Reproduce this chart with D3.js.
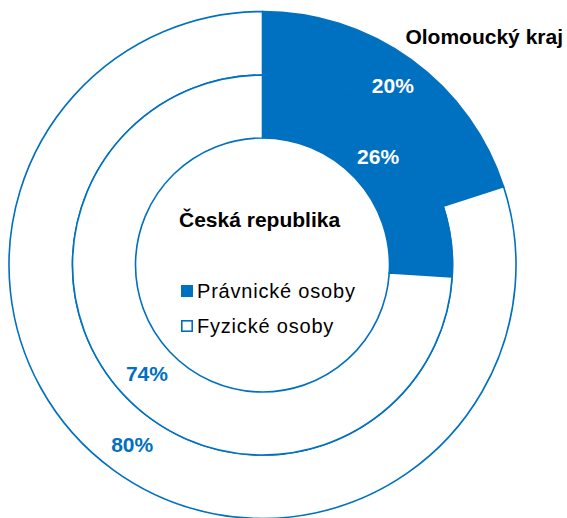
<!DOCTYPE html>
<html><head><meta charset="utf-8">
<script src="https://cdn.jsdelivr.net/npm/d3@7/dist/d3.min.js"></script>
<style>
html,body{margin:0;padding:0;background:#fff;}
svg{display:block;font-family:"Liberation Sans",Arial,sans-serif;}
</style></head>
<body>
<script>
const categories = ["Právnické osoby", "Fyzické osoby"];
const outerValues = [20, 80];   // Olomoucký kraj
const innerValues = [26, 74];   // Česká republika
const outerTitle = "Olomoucký kraj";
const innerTitle = "Česká republika";

const W = 567, H = 518;
const cx = 262.5, cy = 265;
const blue = "#0070C0";

const svg = d3.select("body").append("svg").attr("width", W).attr("height", H);
const g = svg.append("g").attr("transform", `translate(${cx},${cy})`);

const pie = d3.pie().sort(null).value(d => d);
const color = d3.scaleOrdinal().domain(categories).range([blue, "#ffffff"]);
const textColor = d3.scaleOrdinal().domain(categories).range(["#ffffff", blue]);

function ring(values, r0, r1, cls) {
  const arc = d3.arc().innerRadius(r0).outerRadius(r1);
  const arcs = pie(values);
  const gg = g.append("g").attr("class", cls);
  gg.selectAll("path").data(arcs).join("path")
    .attr("d", arc)
    .attr("fill", (d, i) => color(categories[i]))
    .attr("stroke", blue)
    .attr("stroke-width", 1.6)
    .attr("stroke-linejoin", "miter");
  gg.selectAll("text").data(arcs).join("text")
    .attr("transform", d => { const c = arc.centroid(d); return `translate(${c[0]},${c[1]})`; })
    .attr("text-anchor", "middle")
    .attr("dy", "0.36em")
    .attr("font-weight", "bold")
    .attr("font-size", 21)
    .attr("fill", (d, i) => textColor(categories[i]))
    .text(d => d.data + "%");
}

ring(outerValues, 190, 253.5, "outer");
ring(innerValues, 127, 190, "inner");

svg.append("text")
  .attr("x", 563).attr("y", 44)
  .attr("text-anchor", "end")
  .attr("font-weight", "bold").attr("font-size", 21).attr("fill", "#000")
  .text(outerTitle);

svg.append("text")
  .attr("x", 179).attr("y", 227)
  .attr("font-weight", "bold").attr("font-size", 21).attr("fill", "#000")
  .text(innerTitle);

const leg = svg.append("g");
categories.forEach((c, i) => {
  const y = 298 + i * 35;
  leg.append("rect")
    .attr("x", i === 0 ? 181 : 181.8).attr("y", i === 0 ? y - 13 : y - 12.2)
    .attr("width", i === 0 ? 12 : 10.4).attr("height", i === 0 ? 12 : 10.4)
    .attr("fill", color(c))
    .attr("stroke", i === 0 ? "none" : blue)
    .attr("stroke-width", 1.6);
  leg.append("text")
    .attr("x", 197).attr("y", y)
    .attr("font-size", 20).attr("letter-spacing", "0.8px").attr("fill", "#000")
    .text(c);
});
</script>
</body></html>
